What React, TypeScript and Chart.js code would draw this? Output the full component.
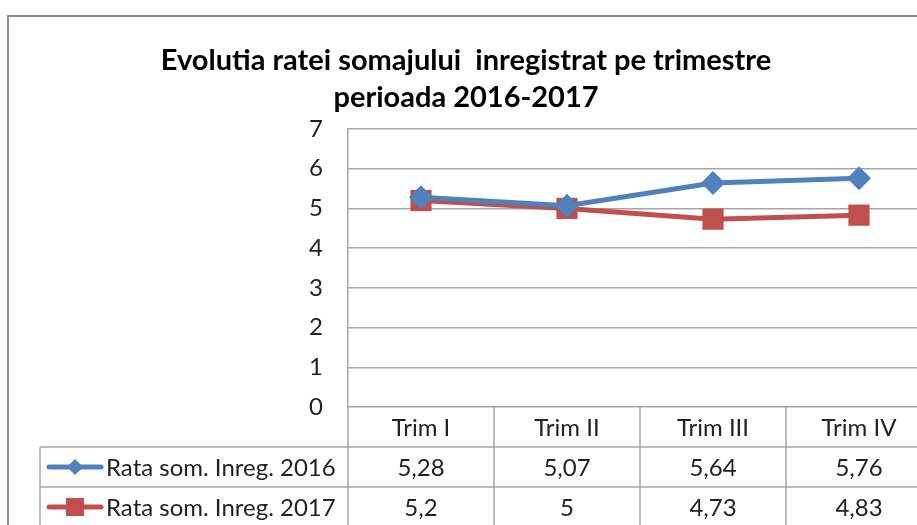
import React, { useEffect, useRef } from "react";
import { Chart, registerables } from "chart.js";

Chart.register(...registerables);

const titleLines = ["Evolutia ratei somajului  inregistrat pe trimestre", "perioada 2016-2017"];
const categories = ["Trim I", "Trim II", "Trim III", "Trim IV"];
const seriesNames = ["Rata som. Inreg. 2016", "Rata som. Inreg. 2017"];
const values2016 = [5.28, 5.07, 5.64, 5.76];
const values2017 = [5.2, 5.0, 4.73, 4.83];
const yTicks = [0, 1, 2, 3, 4, 5, 6, 7];

const FONT = "Lato, 'Noto Sans', sans-serif";
const BLUE = "#4F81BD";
const RED = "#C0504D";
const GRID = "#A6A6A6";
const TEXT_SIZE = 24;

const fmt = (v: number) => String(v).replace(".", ",");

const framePlugin = {
  id: "framePlugin",
  beforeDraw(chart: any) {
    const ctx = chart.ctx;
    ctx.save();
    ctx.fillStyle = "#fff";
    ctx.fillRect(0, 0, chart.width, chart.height);
    ctx.strokeStyle = "#8C8C8C";
    ctx.lineWidth = 2;
    ctx.strokeRect(8, 16, chart.width + 20, chart.height + 20);
    ctx.restore();
  },
  afterDraw(chart: any) {
    const ctx = chart.ctx;
    const x = chart.scales.x;
    const area = chart.chartArea;
    const half = (x.getPixelForValue(1) - x.getPixelForValue(0)) / 2;
    const rowTop = area.bottom;
    const rowH = 40;
    const legendLeft = 40;
    ctx.save();
    ctx.strokeStyle = GRID;
    ctx.lineWidth = 1.5;
    for (let i = 0; i <= categories.length; i++) {
      const px = i < categories.length ? x.getPixelForValue(i) - half : x.getPixelForValue(i - 1) + half;
      ctx.beginPath();
      ctx.moveTo(px, rowTop);
      ctx.lineTo(px, chart.height);
      ctx.stroke();
    }
    ctx.beginPath();
    ctx.moveTo(legendLeft, rowTop + rowH);
    ctx.lineTo(legendLeft, chart.height);
    ctx.stroke();
    for (let r = 1; r <= 3; r++) {
      ctx.beginPath();
      ctx.moveTo(legendLeft, rowTop + rowH * r);
      ctx.lineTo(chart.width, rowTop + rowH * r);
      ctx.stroke();
    }
    ctx.fillStyle = "#222";
    ctx.font = `${TEXT_SIZE}px ${FONT}`;
    ctx.textAlign = "center";
    ctx.textBaseline = "middle";
    categories.forEach((c, i) => {
      ctx.fillText(c, x.getPixelForValue(i), rowTop + rowH / 2 + 1);
    });
    const rows = [values2016, values2017];
    rows.forEach((vals, r) => {
      const cy = rowTop + rowH * (r + 1) + rowH / 2 + 1;
      vals.forEach((v, i) => ctx.fillText(fmt(v), x.getPixelForValue(i), cy));
    });
    ctx.textAlign = "left";
    seriesNames.forEach((name, r) => {
      const cy = rowTop + rowH * (r + 1) + rowH / 2;
      const color = r === 0 ? BLUE : RED;
      ctx.strokeStyle = color;
      ctx.lineWidth = 5;
      ctx.lineCap = "round";
      ctx.beginPath();
      ctx.moveTo(49, cy);
      ctx.lineTo(101, cy);
      ctx.stroke();
      ctx.fillStyle = color;
      if (r === 0) {
        ctx.beginPath();
        ctx.moveTo(75, cy - 8);
        ctx.lineTo(83, cy);
        ctx.lineTo(75, cy + 8);
        ctx.lineTo(67, cy);
        ctx.closePath();
        ctx.fill();
      } else {
        ctx.fillRect(66, cy - 9, 18, 18);
      }
      ctx.fillStyle = "#222";
      ctx.fillText(name, 106, cy + 1);
    });
    ctx.restore();
  },
};

export default function App() {
  const ref = useRef<HTMLCanvasElement | null>(null);
  useEffect(() => {
    if (!ref.current) return;
    const W = 1000;
    const H = 560;
    const chart = new Chart(ref.current, {
      type: "line",
      data: {
        labels: categories,
        datasets: [
          {
            label: seriesNames[0],
            data: values2016,
            borderColor: BLUE,
            backgroundColor: BLUE,
            borderWidth: 5,
            pointStyle: "rectRot",
            pointRadius: 12,
            pointBorderWidth: 0,
          },
          {
            label: seriesNames[1],
            data: values2017,
            borderColor: RED,
            backgroundColor: RED,
            borderWidth: 5,
            pointStyle: "rect",
            pointRadius: 15,
            pointBorderWidth: 0,
          },
        ],
      },
      options: {
        responsive: false,
        animation: false,
        layout: { padding: { left: 0, right: W - 932, top: 0, bottom: H - 407 } },
        plugins: {
          legend: { display: false },
          tooltip: { enabled: false },
          title: {
            display: true,
            text: titleLines,
            color: "#000",
            font: { family: FONT, size: 29, weight: "bold", lineHeight: 1.276 },
            padding: { top: 42, bottom: 13 },
          },
        },
        scales: {
          x: {
            type: "category",
            display: false,
            offset: true,
          },
          y: {
            min: 0,
            max: 7,
            afterFit(scale: any) {
              scale.width = 348;
            },
            afterBuildTicks(scale: any) {
              scale.ticks = yTicks.map((v) => ({ value: v }));
            },
            grid: { color: GRID, lineWidth: 1.5, drawTicks: false },
            border: { display: true, color: GRID, width: 1.5 },
            ticks: {
              color: "#222",
              padding: 25,
              font: { family: FONT, size: TEXT_SIZE },
            },
          },
        },
      },
      plugins: [framePlugin],
    });
    return () => chart.destroy();
  }, []);
  return (
    <div style={{ position: "fixed", left: 0, top: 0, width: 917, height: 525, overflow: "hidden", background: "#fff" }}>
      <canvas ref={ref} width={1000} height={560} style={{ display: "block" }} />
    </div>
  );
}
